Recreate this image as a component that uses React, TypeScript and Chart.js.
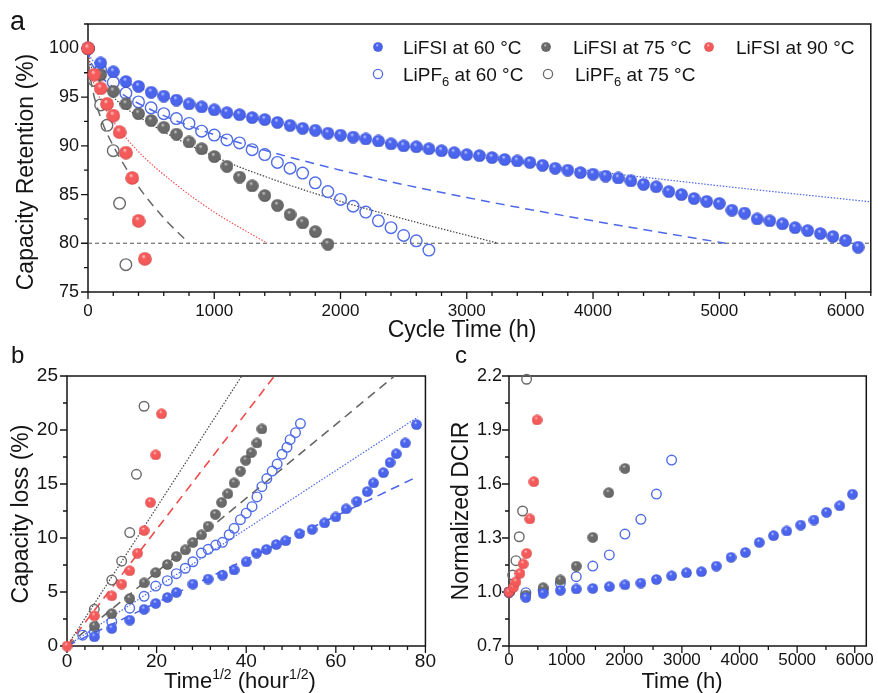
import React, { useEffect, useRef } from "react";
import { Chart, registerables } from "chart.js";

Chart.register(...registerables);

const FONT = '"Liberation Sans", Arial, Helvetica, sans-serif';
const INK = "#141414";

// ---------------- Panel a : capacity retention vs cycle time ----------------
const A_X_TICKS = [0, 1000, 2000, 3000, 4000, 5000, 6000];
const A_Y_TICKS = [75, 80, 85, 90, 95, 100];

const A_LIFSI60_T = [0, 100, 200, 300, 400, 500, 600, 700, 800, 900, 1000, 1100, 1200, 1300, 1400, 1500, 1600, 1700, 1800, 1900, 2000, 2100, 2200, 2300, 2400, 2500, 2600, 2700, 2800, 2900, 3000, 3100, 3200, 3300, 3400, 3500, 3600, 3700, 3800, 3900, 4000, 4100, 4200, 4300, 4400, 4500, 4600, 4700, 4800, 4900, 5000, 5100, 5200, 5300, 5400, 5500, 5600, 5700, 5800, 5900, 6000, 6100];
const A_LIFSI60_R = [100, 98.5, 97.6, 96.6, 96.1, 95.5, 95.1, 94.7, 94.3, 94.0, 93.7, 93.4, 93.2, 92.9, 92.7, 92.4, 92.1, 91.8, 91.6, 91.3, 91.1, 90.9, 90.7, 90.5, 90.2, 90.0, 89.9, 89.7, 89.5, 89.3, 89.1, 89.0, 88.8, 88.6, 88.45, 88.3, 88.0, 87.7, 87.5, 87.25, 87.1, 86.9, 86.7, 86.4, 86.05, 85.8, 85.3, 85.0, 84.6, 84.3, 84.1, 83.4, 83.1, 82.5, 82.3, 82.0, 81.6, 81.3, 81.0, 80.7, 80.3, 79.6];

const A_LIPF660_T = [0, 100, 200, 300, 400, 500, 600, 700, 800, 900, 1000, 1100, 1200, 1300, 1400, 1500, 1600, 1700, 1800, 1900, 2000, 2100, 2200, 2300, 2400, 2500, 2600, 2700];
const A_LIPF660_R = [100, 97.8, 96.5, 95.4, 94.5, 93.9, 93.3, 92.8, 92.3, 91.5, 91.1, 90.6, 90.3, 89.6, 89.1, 88.3, 87.7, 87.2, 86.2, 85.3, 84.5, 83.8, 83.2, 82.3, 81.6, 80.8, 80.25, 79.3];

const A_LIFSI75_T = [0, 100, 200, 300, 400, 500, 600, 700, 800, 900, 1000, 1100, 1200, 1300, 1400, 1500, 1600, 1700, 1800, 1900];
const A_LIFSI75_R = [100, 97.3, 95.6, 94.3, 93.3, 92.6, 91.9, 91.2, 90.4, 89.7, 88.9, 87.9, 86.8, 85.9, 84.9, 83.9, 82.95, 82.1, 81.2, 79.9];

const A_LIFSI90_T = [0, 50, 100, 150, 200, 250, 300, 350, 400, 450];
const A_LIFSI90_R = [100, 97.3, 95.9, 94.3, 93.1, 91.4, 89.3, 86.7, 82.3, 78.4];

const A_LIPF675_T = [0, 50, 100, 150, 200, 250, 300];
const A_LIPF675_R = [100, 96.7, 94.2, 92.1, 89.5, 84.1, 77.8];

// fitted curves
const A_FIT_LIFSI60_T = [0, 10, 50, 200, 500, 1000, 2000, 3000, 4000, 5000, 6200];
const A_FIT_LIFSI60_R = [100, 99.4, 98.6, 97.2, 95.5, 93.7, 91.1, 89.0, 87.4, 85.9, 84.25];
const A_FIT_LIPF660_T = [0, 10, 50, 200, 500, 1000, 2000, 3000, 4000, 5050];
const A_FIT_LIPF660_R = [100, 99.1, 98.0, 96.0, 93.7, 91.15, 87.5, 84.7, 82.3, 80.0];
const A_FIT_LIFSI75_T = [0, 10, 50, 200, 500, 1000, 1500, 2000, 2500, 3250];
const A_FIT_LIFSI75_R = [100, 98.9, 97.5, 95.0, 92.2, 88.9, 86.4, 84.3, 82.5, 80.0];
const A_FIT_LIPF675_T = [0, 5, 25, 100, 200, 400, 600, 800];
const A_FIT_LIPF675_R = [100, 98.4, 96.5, 92.9, 90.0, 85.8, 82.6, 80.0];
const A_FIT_LIFSI90_T = [0, 5, 25, 100, 200, 400, 700, 1000, 1420];
const A_FIT_LIFSI90_R = [100, 98.8, 97.35, 94.7, 92.5, 89.4, 86.0, 83.2, 80.0];
const A_LIMIT_T = [0, 6200];
const A_LIMIT_R = [80, 80];

const LEGEND_LABELS = ["LiFSI at 60 °C", "LiFSI at 75 °C", "LiFSI at 90 °C", "LiPF_6 at 60 °C", "LiPF_6 at 75 °C"];

// ---------------- Panel b : capacity loss vs sqrt(time) ----------------
const B_X_TICKS = [0, 20, 40, 60, 80];
const B_Y_TICKS = [0, 5, 10, 15, 20, 25];

const B_LIFSI60_X = [6.1, 10.0, 14.0, 17.2, 19.8, 22.4, 24.4, 28.1, 31.5, 34.7, 37.3, 40.0, 42.3, 44.5, 46.7, 48.8, 51.9, 54.7, 57.5, 60.0, 62.3, 64.7, 67.0, 68.4, 70.6, 72.1, 73.5, 75.5, 78.0];
const B_LIFSI60_Y = [0.86, 1.63, 2.4, 3.4, 3.95, 4.5, 4.97, 5.74, 6.2, 6.57, 7.04, 7.8, 8.6, 8.95, 9.4, 9.75, 10.4, 10.8, 11.4, 11.95, 12.7, 13.4, 14.3, 15.1, 16.05, 17.0, 17.8, 18.8, 20.5];
const B_LIPF660_X = [3.5, 6.1, 10.0, 14.0, 17.2, 19.8, 22.4, 24.4, 26.4, 28.1, 30.0, 31.5, 33.2, 34.7, 36.2, 37.3, 38.7, 40.0, 41.3, 42.4, 43.5, 44.6, 45.8, 46.9, 48.0, 49.1, 49.8, 51.0, 52.1];
const B_LIPF660_Y = [1.0, 1.3, 2.25, 3.5, 4.6, 5.55, 6.05, 6.7, 7.2, 7.8, 8.6, 8.95, 9.35, 9.6, 10.3, 10.9, 11.7, 12.3, 12.9, 13.8, 14.75, 15.5, 16.2, 16.85, 17.75, 18.4, 19.1, 19.75, 20.6];
const B_LIFSI75_X = [6.1, 10.0, 14.0, 17.2, 19.8, 22.4, 24.4, 26.4, 28.1, 30.0, 31.5, 33.1, 34.5, 35.9, 37.3, 38.7, 39.9, 41.1, 42.4, 43.5];
const B_LIFSI75_Y = [1.85, 3.0, 4.4, 5.85, 6.8, 7.55, 8.3, 8.9, 9.6, 10.3, 11.1, 12.2, 13.3, 14.1, 15.1, 16.2, 17.2, 17.9, 18.8, 20.1];
const B_LIFSI90_X = [0, 6.1, 10.0, 12.2, 14.0, 15.75, 17.2, 18.6, 19.8, 21.1];
const B_LIFSI90_Y = [0, 2.8, 4.65, 5.74, 6.97, 8.6, 10.7, 13.3, 17.7, 21.5];
const B_LIPF675_X = [6.1, 10.0, 12.2, 14.0, 15.5, 17.2];
const B_LIPF675_Y = [3.4, 6.1, 7.85, 10.5, 15.9, 22.2];

const B_FIT_LIPF675_X = [0, 39.0];
const B_FIT_LIPF675_Y = [0, 25];
const B_FIT_LIFSI90_X = [0, 46.3];
const B_FIT_LIFSI90_Y = [0, 25];
const B_FIT_LIFSI75_X = [0, 73.1];
const B_FIT_LIFSI75_Y = [0, 25];
const B_FIT_LIPF660_X = [0, 78.3];
const B_FIT_LIPF660_Y = [0, 21.2];
const B_FIT_LIFSI60_X = [0, 78.3];
const B_FIT_LIFSI60_Y = [0, 15.7];

// ---------------- Panel c : normalized DCIR vs time ----------------
const C_X_TICKS = [0, 1000, 2000, 3000, 4000, 5000, 6000];
const C_Y_TICKS = [0.7, 1.0, 1.3, 1.6, 1.9, 2.2];

const C_LIFSI60_T = [0, 293, 592, 891, 1167, 1454, 1741, 2012, 2288, 2558, 2822, 3080, 3339, 3598, 3853, 4101, 4343, 4590, 4819, 5061, 5292, 5510, 5740, 5960];
const C_LIFSI60_V = [1.0, 0.97, 0.993, 1.01, 1.017, 1.02, 1.03, 1.04, 1.05, 1.07, 1.09, 1.107, 1.113, 1.144, 1.193, 1.22, 1.276, 1.313, 1.339, 1.372, 1.4, 1.443, 1.479, 1.544];
const C_LIFSI75_T = [0, 293, 592, 891, 1167, 1454, 1730, 2012];
const C_LIFSI75_V = [1.0, 0.983, 1.024, 1.067, 1.144, 1.304, 1.552, 1.687];
const C_LIPF660_T = [0, 293, 592, 891, 1167, 1454, 1741, 2012, 2288, 2558, 2822];
const C_LIPF660_V = [1.0, 0.996, 1.01, 1.048, 1.085, 1.144, 1.206, 1.322, 1.404, 1.544, 1.733];
const C_LIFSI90_T = [0, 75, 121, 190, 247, 305, 362, 431, 488];
const C_LIFSI90_V = [1.0, 1.026, 1.057, 1.104, 1.156, 1.215, 1.406, 1.613, 1.956];
const C_LIPF675_T = [0, 63, 121, 178, 236, 305];
const C_LIPF675_V = [1.0, 1.094, 1.174, 1.307, 1.45, 2.182];

// ---------------- helpers ----------------
const BLUE = { base: "#4a64ee", light: "#d2daff", dark: "#2b41b0" };
const GRAY = { base: "#6a6a6a", light: "#dadada", dark: "#363636" };
const RED = { base: "#f55a5a", light: "#ffdada", dark: "#c23838" };
const BLUE_LINE = "#4d67ea";
const BLUE_HOLLOW = "#4f6ce6";
const GRAY_HOLLOW = "#6a6a6a";

function sphere(d: number, c: { base: string; light: string; dark: string }) {
  const cv = document.createElement("canvas");
  cv.width = d;
  cv.height = d;
  const g = cv.getContext("2d")!;
  const r = d / 2;
  const grad = g.createRadialGradient(r - r * 0.2, r - r * 0.42, 0, r, r, r);
  grad.addColorStop(0, c.light);
  grad.addColorStop(0.32, c.base);
  grad.addColorStop(0.82, c.base);
  grad.addColorStop(1, c.dark);
  g.fillStyle = grad;
  g.beginPath();
  g.arc(r, r, r - 0.2, 0, Math.PI * 2);
  g.fill();
  return cv;
}

const pts = (xs: number[], ys: number[]) => xs.map((x, i) => ({ x, y: ys[i] }));

function filledSet(xs: number[], ys: number[], img: HTMLCanvasElement) {
  return {
    data: pts(xs, ys),
    showLine: false,
    pointStyle: img,
    pointRadius: img.width / 2,
    borderWidth: 0,
    clip: false,
  };
}

function hollowSet(xs: number[], ys: number[], color: string, r: number) {
  return {
    data: pts(xs, ys),
    showLine: false,
    pointStyle: "circle",
    pointRadius: r,
    pointBorderWidth: 1.4,
    pointBorderColor: color,
    pointBackgroundColor: "rgba(255,255,255,0)",
    borderColor: color,
    clip: false,
  };
}

function lineSet(xs: number[], ys: number[], color: string, dash: number[], width: number, curve: boolean) {
  return {
    data: pts(xs, ys),
    showLine: true,
    pointRadius: 0,
    borderColor: color,
    borderWidth: width,
    borderDash: dash,
    cubicInterpolationMode: curve ? "monotone" : "default",
    tension: 0,
    fill: false,
  };
}

function steps(min: number, max: number, step: number) {
  const out: number[] = [];
  for (let v = min; v <= max + 1e-9; v += step) out.push(Math.round(v * 1000) / 1000);
  return out;
}

type Part = { t: string; size: number; dy?: number };
function rich(s: string, size: number): Part[] {
  const out: Part[] = [];
  const re = /_(\w)|\^([^^]+)\^/g;
  let last = 0;
  let m: RegExpExecArray | null;
  while ((m = re.exec(s))) {
    if (m.index > last) out.push({ t: s.slice(last, m.index), size });
    if (m[1]) out.push({ t: m[1], size: Math.round(size * 0.66), dy: size * 0.3 });
    else out.push({ t: m[2], size: Math.round(size * 0.64), dy: -size * 0.42 });
    last = re.lastIndex;
  }
  if (last < s.length) out.push({ t: s.slice(last), size });
  return out;
}

function drawParts(ctx: CanvasRenderingContext2D, parts: Part[], x: number, y: number, align: "left" | "center", baseline: CanvasTextBaseline) {
  const widths = parts.map((p) => {
    ctx.font = `${p.size}px ${FONT}`;
    return ctx.measureText(p.t).width;
  });
  const total = widths.reduce((a, b) => a + b, 0);
  let cx = align === "center" ? x - total / 2 : x;
  ctx.textAlign = "left";
  ctx.textBaseline = baseline;
  ctx.fillStyle = INK;
  parts.forEach((p, i) => {
    ctx.font = `${p.size}px ${FONT}`;
    ctx.fillText(p.t, cx, y + (p.dy || 0));
    cx += widths[i];
  });
}

function drawRotated(ctx: CanvasRenderingContext2D, text: string, size: number, cx: number, cy: number) {
  ctx.save();
  ctx.translate(cx, cy);
  ctx.rotate(-Math.PI / 2);
  drawParts(ctx, rich(text, size), 0, 0, "center", "middle");
  ctx.restore();
}

type Spec = {
  xMajor: number[];
  xMinor: number[];
  yMajor: number[];
  yMinor: number[];
  after?: (ctx: CanvasRenderingContext2D, chart: any) => void;
};

function decor(spec: Spec) {
  return {
    id: "decor",
    beforeDatasetsDraw(chart: any) {
      const { ctx, chartArea: a, scales } = chart;
      ctx.save();
      ctx.strokeStyle = INK;
      ctx.lineWidth = 1.5;
      ctx.setLineDash([]);
      ctx.strokeRect(a.left, a.top, a.right - a.left, a.bottom - a.top);
      ctx.lineWidth = 1.3;
      ctx.beginPath();
      const tx = (vals: number[], len: number) =>
        vals.forEach((v) => {
          const p = scales.x.getPixelForValue(v);
          ctx.moveTo(p, a.bottom);
          ctx.lineTo(p, a.bottom + len);
        });
      const ty = (vals: number[], len: number) =>
        vals.forEach((v) => {
          const p = scales.y.getPixelForValue(v);
          ctx.moveTo(a.left, p);
          ctx.lineTo(a.left - len, p);
        });
      tx(spec.xMajor, 7);
      tx(spec.xMinor, 4);
      ty(spec.yMajor, 7);
      ty(spec.yMinor, 4);
      ctx.stroke();
      ctx.restore();
    },
    afterDraw(chart: any) {
      if (spec.after) {
        chart.ctx.save();
        spec.after(chart.ctx, chart);
        chart.ctx.restore();
      }
    },
  };
}

type AxOpts = {
  xMin: number; xMax: number; yMin: number; yMax: number;
  xTicks: number[]; yTicks: number[];
  xFmt: (v: number) => string; yFmt: (v: number) => string;
  xFont: number; yFont: number; xPad: number; yPad: number;
  yW: number; xH: number;
  padding: { left: number; right: number; top: number; bottom: number };
};

function options(o: AxOpts) {
  return {
    responsive: false,
    animation: false,
    events: [],
    layout: { padding: o.padding },
    plugins: { legend: { display: false }, tooltip: { enabled: false }, title: { display: false } },
    scales: {
      x: {
        type: "linear",
        min: o.xMin,
        max: o.xMax,
        grid: { display: false, drawTicks: false },
        border: { display: false },
        afterBuildTicks: (s: any) => {
          s.ticks = o.xTicks.map((v) => ({ value: v }));
        },
        afterFit: (s: any) => {
          s.height = o.xH;
        },
        ticks: {
          font: { family: FONT, size: o.xFont },
          color: INK,
          padding: o.xPad,
          maxRotation: 0,
          autoSkip: false,
          callback: (v: any) => o.xFmt(Number(v)),
        },
      },
      y: {
        type: "linear",
        min: o.yMin,
        max: o.yMax,
        grid: { display: false, drawTicks: false },
        border: { display: false },
        afterBuildTicks: (s: any) => {
          s.ticks = o.yTicks.map((v) => ({ value: v }));
        },
        afterFit: (s: any) => {
          s.width = o.yW;
        },
        ticks: {
          font: { family: FONT, size: o.yFont },
          color: INK,
          padding: o.yPad,
          autoSkip: false,
          callback: (v: any) => o.yFmt(Number(v)),
        },
      },
    },
  };
}

export default function App() {
  const refA = useRef<HTMLCanvasElement>(null);
  const refB = useRef<HTMLCanvasElement>(null);
  const refC = useRef<HTMLCanvasElement>(null);

  useEffect(() => {
    const sBlueA = sphere(13, BLUE);
    const sGrayA = sphere(13, GRAY);
    const sRedA = sphere(14, RED);
    const sBlueL = sphere(10, BLUE);
    const sGrayL = sphere(10, GRAY);
    const sRedL = sphere(10, RED);
    const sBlueB = sphere(11, BLUE);
    const sGrayB = sphere(11, GRAY);
    const sRedB = sphere(11, RED);

    // ---------- chart a ----------
    const legendMarks: { x: number; y: number; tx: number; img?: HTMLCanvasElement; hollow?: string }[] = [
      { x: 378, y: 47, tx: 403, img: sBlueL },
      { x: 546, y: 47, tx: 573, img: sGrayL },
      { x: 709, y: 47, tx: 736, img: sRedL },
      { x: 378, y: 74, tx: 403, hollow: BLUE_HOLLOW },
      { x: 548, y: 74, tx: 575, hollow: GRAY_HOLLOW },
    ];

    const chartA = new Chart(refA.current!, {
      type: "line",
      data: {
        datasets: [
          filledSet(A_LIFSI90_T, A_LIFSI90_R, sRedA),
          filledSet(A_LIFSI60_T, A_LIFSI60_R, sBlueA),
          filledSet(A_LIFSI75_T, A_LIFSI75_R, sGrayA),
          hollowSet(A_LIPF675_T, A_LIPF675_R, GRAY_HOLLOW, 5.8),
          hollowSet(A_LIPF660_T, A_LIPF660_R, BLUE_HOLLOW, 5.8),
          lineSet(A_FIT_LIFSI60_T, A_FIT_LIFSI60_R, BLUE_LINE, [1.5, 1.6], 1.2, true),
          lineSet(A_FIT_LIPF660_T, A_FIT_LIPF660_R, BLUE_LINE, [9, 6], 1.5, true),
          lineSet(A_FIT_LIFSI75_T, A_FIT_LIFSI75_R, "#444", [1.5, 1.6], 1.2, true),
          lineSet(A_FIT_LIPF675_T, A_FIT_LIPF675_R, "#666", [9, 6], 1.5, true),
          lineSet(A_FIT_LIFSI90_T, A_FIT_LIFSI90_R, "#f04a4a", [1.5, 1.6], 1.1, true),
          lineSet(A_LIMIT_T, A_LIMIT_R, "#555", [4, 3], 1.2, false),
        ] as any,
      },
      options: options({
        xMin: 0, xMax: 6200, yMin: 75, yMax: 102.5,
        xTicks: A_X_TICKS, yTicks: A_Y_TICKS,
        xFmt: (v) => String(v), yFmt: (v) => String(v),
        xFont: 17, yFont: 18, xPad: 9, yPad: 9,
        yW: 60, xH: 32,
        padding: { left: 28, right: 4, top: 24, bottom: 21 },
      }) as any,
      plugins: [
        decor({
          xMajor: A_X_TICKS, xMinor: steps(0, 6200, 200), yMajor: A_Y_TICKS, yMinor: steps(77.5, 102.5, 5),
          after: (ctx) => {
            drawParts(ctx, [{ t: "a", size: 27 }], 10, 30, "left", "alphabetic");
            drawRotated(ctx, "Capacity Retention (%)", 23, 27, 172);
            drawParts(ctx, rich("Cycle Time (h)", 23), 462, 337, "center", "alphabetic");
            legendMarks.forEach((m, i) => {
              if (m.img) {
                ctx.drawImage(m.img, m.x - m.img.width / 2, m.y - m.img.height / 2);
              } else {
                ctx.beginPath();
                ctx.strokeStyle = m.hollow!;
                ctx.lineWidth = 1.3;
                ctx.arc(m.x, m.y, 4.6, 0, Math.PI * 2);
                ctx.stroke();
              }
              drawParts(ctx, rich(LEGEND_LABELS[i], 19), m.tx, m.y + 6.5, "left", "alphabetic");
            });
          },
        }),
      ],
    });

    // ---------- chart b ----------
    const chartB = new Chart(refB.current!, {
      type: "line",
      data: {
        datasets: [
          filledSet(B_LIFSI90_X, B_LIFSI90_Y, sRedB),
          filledSet(B_LIFSI60_X, B_LIFSI60_Y, sBlueB),
          filledSet(B_LIFSI75_X, B_LIFSI75_Y, sGrayB),
          hollowSet(B_LIPF675_X, B_LIPF675_Y, GRAY_HOLLOW, 4.8),
          hollowSet(B_LIPF660_X, B_LIPF660_Y, BLUE_HOLLOW, 4.8),
          lineSet(B_FIT_LIPF675_X, B_FIT_LIPF675_Y, "#444", [1.5, 1.6], 1.2, false),
          lineSet(B_FIT_LIFSI90_X, B_FIT_LIFSI90_Y, "#f04a4a", [9, 6], 1.6, false),
          lineSet(B_FIT_LIFSI75_X, B_FIT_LIFSI75_Y, "#666", [9, 6], 1.6, false),
          lineSet(B_FIT_LIPF660_X, B_FIT_LIPF660_Y, BLUE_LINE, [1.5, 1.6], 1.2, false),
          lineSet(B_FIT_LIFSI60_X, B_FIT_LIFSI60_Y, BLUE_LINE, [9, 6], 1.6, false),
        ] as any,
      },
      options: options({
        xMin: 0, xMax: 80, yMin: 0, yMax: 25,
        xTicks: B_X_TICKS, yTicks: B_Y_TICKS,
        xFmt: (v) => String(v), yFmt: (v) => String(v),
        xFont: 19, yFont: 19, xPad: 4, yPad: 9,
        yW: 45, xH: 30,
        padding: { left: 22, right: 14, top: 36, bottom: 17 },
      }) as any,
      plugins: [
        decor({
          xMajor: B_X_TICKS, xMinor: steps(0, 80, 4), yMajor: B_Y_TICKS, yMinor: steps(2.5, 25, 5),
          after: (ctx) => {
            drawParts(ctx, [{ t: "b", size: 24 }], 11, 23, "left", "alphabetic");
            drawRotated(ctx, "Capacity loss (%)", 23, 22, 174);
            drawParts(ctx, rich("Time^1/2^ (hour^1/2^)", 22), 240, 348, "center", "alphabetic");
          },
        }),
      ],
    });

    // ---------- chart c ----------
    const chartC = new Chart(refC.current!, {
      type: "line",
      data: {
        datasets: [
          filledSet(C_LIFSI90_T, C_LIFSI90_V, sRedB),
          filledSet(C_LIFSI60_T, C_LIFSI60_V, sBlueB),
          filledSet(C_LIFSI75_T, C_LIFSI75_V, sGrayB),
          hollowSet(C_LIPF675_T, C_LIPF675_V, GRAY_HOLLOW, 4.8),
          hollowSet(C_LIPF660_T, C_LIPF660_V, BLUE_HOLLOW, 4.8),
        ] as any,
      },
      options: options({
        xMin: 0, xMax: 6200, yMin: 0.7, yMax: 2.2,
        xTicks: C_X_TICKS, yTicks: C_Y_TICKS,
        xFmt: (v) => String(v), yFmt: (v) => v.toFixed(1),
        xFont: 17, yFont: 18, xPad: 4, yPad: 7,
        yW: 45, xH: 30,
        padding: { left: 24, right: 10, top: 36, bottom: 17 },
      }) as any,
      plugins: [
        decor({
          xMajor: C_X_TICKS, xMinor: steps(500, 6000, 1000), yMajor: C_Y_TICKS, yMinor: steps(0.85, 2.2, 0.3),
          after: (ctx) => {
            drawParts(ctx, [{ t: "c", size: 24 }], 15, 23, "left", "alphabetic");
            drawRotated(ctx, "Normalized DCIR", 23, 22, 171);
            drawParts(ctx, rich("Time (h)", 22), 242, 348, "center", "alphabetic");
          },
        }),
      ],
    });

    return () => {
      chartA.destroy();
      chartB.destroy();
      chartC.destroy();
    };
  }, []);

  return (
    <div style={{ position: "absolute", left: 0, top: 0, width: 878, height: 693, background: "#fff", overflow: "hidden" }}>
      <canvas ref={refA} width={878} height={345} style={{ position: "absolute", left: 0, top: 0 }} />
      <canvas ref={refB} width={440} height={353} style={{ position: "absolute", left: 0, top: 340 }} />
      <canvas ref={refC} width={438} height={353} style={{ position: "absolute", left: 440, top: 340 }} />
    </div>
  );
}
